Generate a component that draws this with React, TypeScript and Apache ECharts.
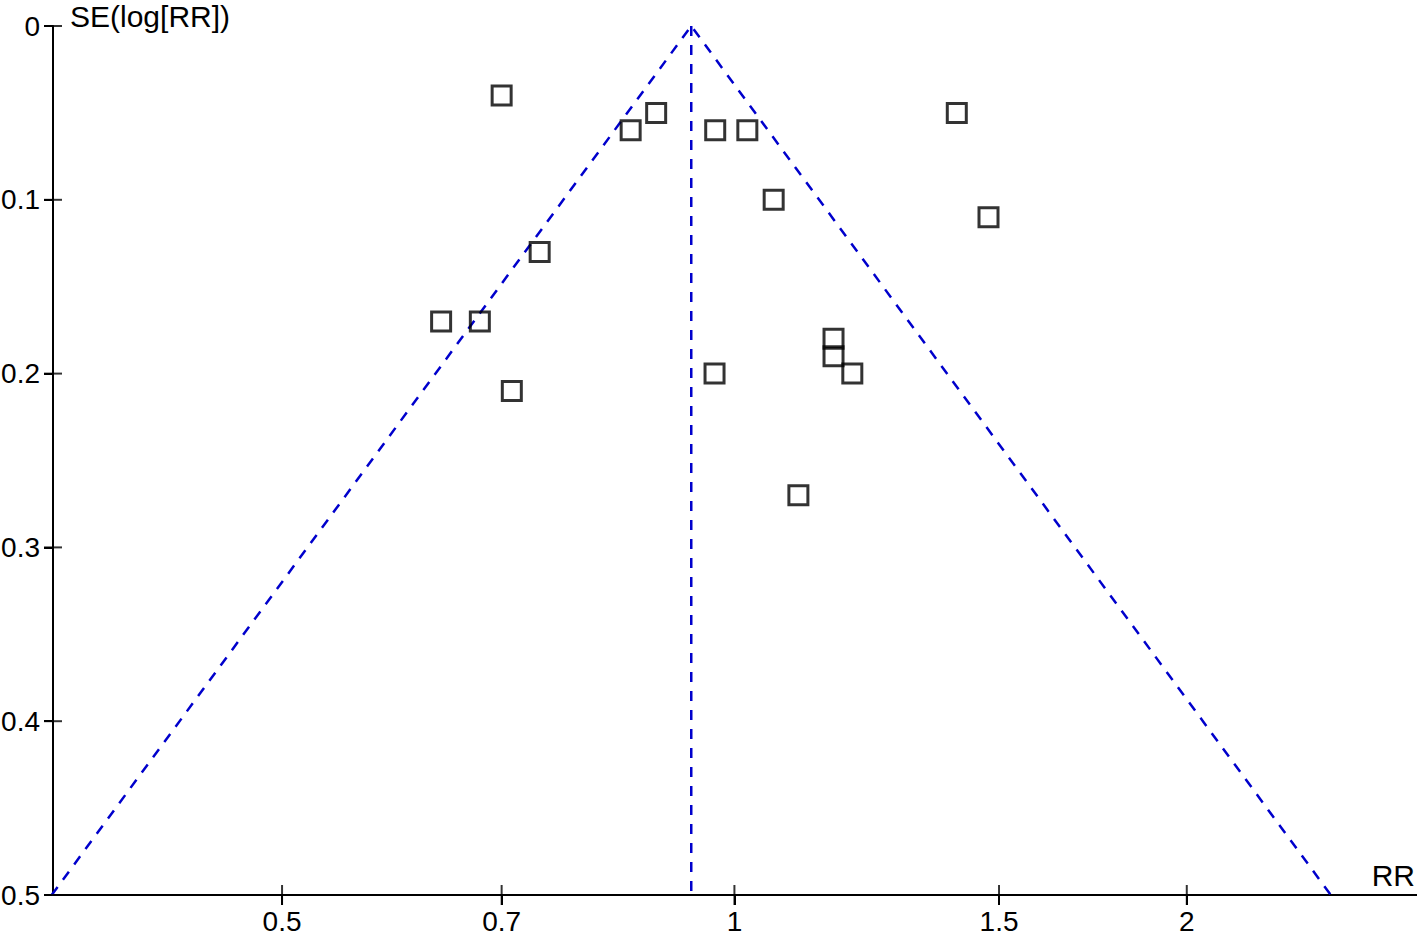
import React, { useEffect, useRef } from "react";
import * as echarts from "echarts";

const rrValues = [0.700, 0.853, 0.887, 0.971, 1.020, 1.406, 1.062, 1.476, 0.742, 0.638, 0.677, 0.711, 0.970, 1.164, 1.164, 1.198, 1.103];
const seValues = [0.04, 0.06, 0.05, 0.06, 0.06, 0.05, 0.10, 0.11, 0.13, 0.17, 0.17, 0.21, 0.20, 0.18, 0.19, 0.20, 0.27];
const pooledRR = 0.936;
const seMax = 0.5;
const xTickLabels = [0.5, 0.7, 1, 1.5, 2];
const seTicks = [0, 0.1, 0.2, 0.3, 0.4, 0.5];
const xRange = [0.352, 2.846];

const FONT = "'Liberation Sans', Arial, sans-serif";

export default function App() {
  const ref = useRef<HTMLDivElement>(null);
  useEffect(() => {
    if (!ref.current) return;
    const chart = echarts.init(ref.current, null, { renderer: "svg" });
    const center = Math.log(pooledRR);
    const half = 1.96 * seMax;
    const ticks = xTickLabels.map((v) => Math.log(v));
    const xMin = Math.log(xRange[0]);
    const xMax = Math.log(xRange[1]);
    const dashed = { color: "#0000CC", width: 2.5, type: [10, 9] as any };
    const tickStyle = { color: "#000", width: 2 };
    chart.setOption({
      animation: false,
      backgroundColor: "#fff",
      grid: { left: 53, right: 0, top: 26, bottom: 41, containLabel: false, outerBoundsMode: "none" },
      xAxis: {
        type: "value",
        min: xMin,
        max: xMax,
        position: "bottom",
        splitLine: { show: false },
        axisLine: { onZero: false, show: true, lineStyle: { color: "#000", width: 2 } },
        axisTick: { show: true, customValues: ticks, length: 10, inside: false, lineStyle: tickStyle },
        axisLabel: {
          customValues: ticks,
          margin: 12,
          fontSize: 28,
          fontFamily: FONT,
          color: "#000",
          formatter: (v: number) => String(Math.round(Math.exp(v) * 10) / 10),
        },
      },
      yAxis: {
        type: "value",
        inverse: true,
        min: 0,
        max: seMax,
        interval: 0.1,
        position: "left",
        splitLine: { show: false },
        axisLine: { onZero: false, show: true, lineStyle: { color: "#000", width: 2 } },
        axisTick: { show: true, length: 9, inside: false, lineStyle: tickStyle },
        axisLabel: {
          margin: 13,
          fontSize: 28,
          fontFamily: FONT,
          color: "#000",
          padding: [10, 0, 0, 0],
        },
      },
      graphic: [
        {
          type: "text",
          left: 70,
          top: 1,
          style: { text: "SE(log[RR])", fontSize: 30, fontFamily: FONT, fill: "#000" },
        },
        {
          type: "text",
          right: 2,
          top: 860,
          style: { text: "RR", fontSize: 30, fontFamily: FONT, fill: "#000" },
        },
      ],
      series: [
        {
          type: "line",
          symbol: "none",
          silent: true,
          lineStyle: dashed,
          data: [
            [center - half, seMax],
            [center, 0],
            [center + half, seMax],
          ],
          z: 1,
        },
        {
          type: "line",
          symbol: "none",
          silent: true,
          lineStyle: dashed,
          data: [
            [center, 0],
            [center, seMax],
          ],
          z: 1,
        },
        {
          type: "scatter",
          silent: true,
          clip: false,
          symbol: "rect",
          symbolSize: [2, 20],
          itemStyle: { color: "#000" },
          data: ticks.map((v) => [v, seMax]),
          z: 2,
        },
        {
          type: "scatter",
          silent: true,
          clip: false,
          symbol: "rect",
          symbolSize: [18, 2],
          itemStyle: { color: "#000" },
          data: seTicks.map((v) => [xMin, v]),
          z: 2,
        },
        {
          type: "scatter",
          symbol: "rect",
          symbolSize: 19,
          itemStyle: { color: "rgba(0,0,0,0)", borderColor: "#000", borderWidth: 3 },
          data: rrValues.map((r, i) => [Math.log(r), seValues[i]]),
          z: 3,
        },
      ],
    });
    return () => chart.dispose();
  }, []);
  return <div ref={ref} style={{ position: "absolute", left: 0, top: 0, width: 1417, height: 936 }} />;
}
